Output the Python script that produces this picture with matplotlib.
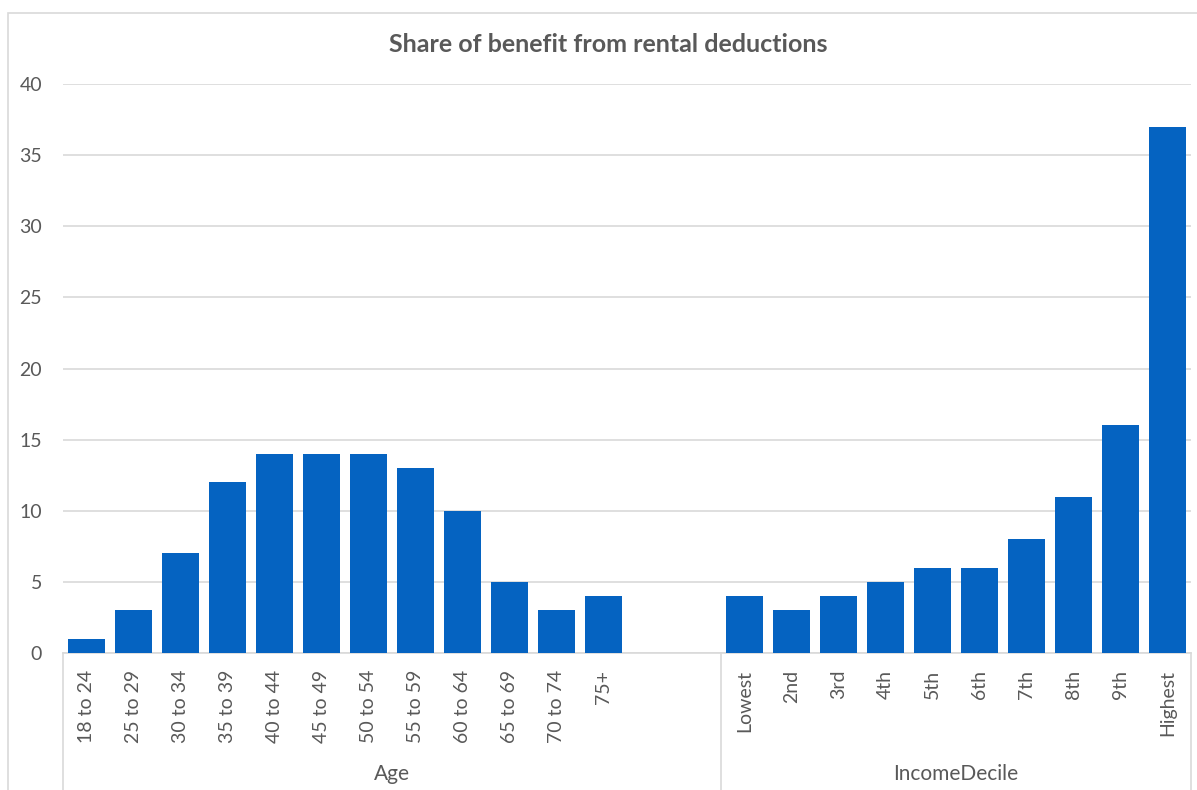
import numpy as np
import matplotlib.pyplot as plt
import matplotlib.patches as mpatches

# donnees
age_labels = ['18 to 24', '25 to 29', '30 to 34', '35 to 39', '40 to 44', '45 to 49',
              '50 to 54', '55 to 59', '60 to 64', '65 to 69', '70 to 74', '75+']
age_values = [1, 3, 7, 12, 14, 14, 14, 13, 10, 5, 3, 4]
inc_labels = ['Lowest', '2nd', '3rd', '4th', '5th', '6th', '7th', '8th', '9th', 'Highest']
inc_values = [4, 3, 4, 5, 6, 6, 8, 11, 16, 37]
groups = ['Age', 'IncomeDecile']

plt.rcParams['font.family'] = ['Lato', 'DejaVu Sans']
gris = '#595959'
ligne = '#d9d9d9'
bleu = '#0563C1'

W, H = 1197, 790
fig = plt.figure(figsize=(W / 100, H / 100), dpi=100)
ax = fig.add_axes([63 / W, 137 / H, 1128 / W, 569 / H])

# cadre exterieur du graphique
fig.patches.append(mpatches.Rectangle((8 / W, -0.05), 1.2, (H - 13) / H + 0.05,
                                      transform=fig.transFigure, fill=False,
                                      edgecolor=ligne, linewidth=1.2))

n_age = len(age_labels)
age_slots = n_age + 2          # deux emplacements vides apres le groupe Age
x_age = np.arange(n_age)
x_inc = age_slots + np.arange(len(inc_labels))

ax.bar(x_age, age_values, width=0.77, color=bleu, zorder=3)
ax.bar(x_inc, inc_values, width=0.77, color=bleu, zorder=3)

ax.set_xlim(-0.5, age_slots + len(inc_labels) - 0.5)
ax.set_ylim(0, 40)
ax.set_yticks(np.arange(0, 41, 5))
ax.yaxis.grid(True, color=ligne, linewidth=1.2, zorder=0)
ax.tick_params(axis='y', length=0, pad=15, labelsize=14, labelcolor=gris)

ax.set_xticks(list(x_age) + list(x_inc))
ax.set_xticklabels(age_labels + inc_labels, rotation=90, fontsize=14, color=gris)
ax.tick_params(axis='x', length=0, pad=12)

for s in ['left', 'right', 'top']:
    ax.spines[s].set_visible(False)
ax.spines['bottom'].set_color(ligne)
ax.spines['bottom'].set_linewidth(1.2)

# separateurs des groupes
tr = ax.get_xaxis_transform()
for xs in [-0.5, age_slots - 0.5, age_slots + len(inc_labels) - 0.5]:
    ax.plot([xs, xs], [0, -0.25], transform=tr, color=ligne, linewidth=1.2, clip_on=False)

# etiquettes des groupes
ax.text((age_slots - 1) / 2, -0.213, groups[0], transform=tr, ha='center', va='center',
        fontsize=15, color=gris)
ax.text(age_slots + (len(inc_labels) - 1) / 2, -0.213, groups[1], transform=tr,
        ha='center', va='center', fontsize=15, color=gris)

fig.text(608 / W, 1 - 44 / H, 'Share of benefit from rental deductions', ha='center',
         va='center', fontsize=18, fontweight='bold', color=gris)

fig.savefig('out.png', dpi=100)
